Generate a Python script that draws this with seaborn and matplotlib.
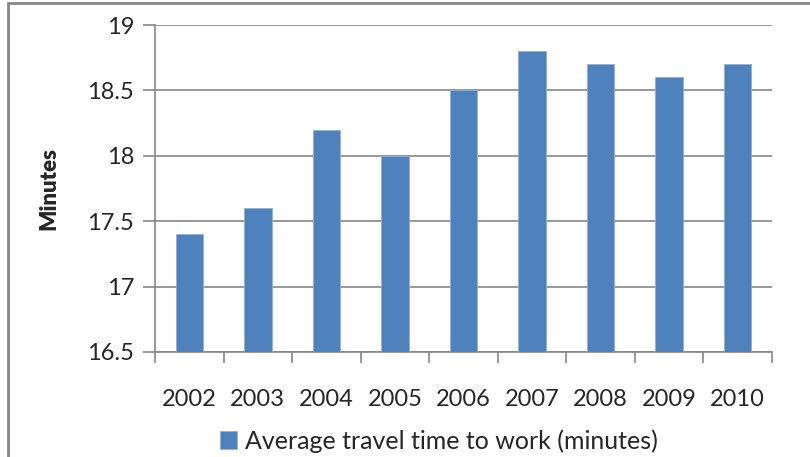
import numpy as np
import pandas as pd
import seaborn as sns
import matplotlib
matplotlib.use("Agg")
import matplotlib.pyplot as plt
from matplotlib.patches import Rectangle

years = ["2002", "2003", "2004", "2005", "2006", "2007", "2008", "2009", "2010"]
minutes = [17.4, 17.6, 18.2, 18.0, 18.5, 18.8, 18.7, 18.6, 18.7]
yticks = [16.5, 17, 17.5, 18, 18.5, 19]
yticklabels = ["16.5", "17", "17.5", "18", "18.5", "19"]
series_name = "Average travel time to work (minutes)"

df = pd.DataFrame({"year": years, "minutes": minutes, "series": series_name})

sns.set_style("white")
plt.rcParams["font.family"] = ["Lato", "DejaVu Sans"]

grey = "#868686"
blue = "#4F81BD"

fig = plt.figure(figsize=(8.1, 4.57), dpi=100)
ax = fig.add_axes([155 / 810, 1 - 352 / 457, (772 - 155) / 810, (352 - 25) / 457])

sns.barplot(data=df, x="year", y="minutes", hue="series", palette=[blue], saturation=1,
            width=0.4, edgecolor="#8FB0DA", linewidth=0.6, ax=ax, zorder=3)

ax.set_ylim(16.5, 19)
ax.set_xlim(-0.5, len(years) - 0.5)
ax.set_yticks(yticks)
ax.set_yticklabels(yticklabels, fontsize=17)
ax.set_xticks(range(len(years)))
ax.set_xticklabels(years, fontsize=17)
ax.set_xlabel("")
ax.set_ylabel("Minutes", fontsize=16, fontweight="heavy", labelpad=20)

ax.grid(axis="y", color=grey, linewidth=1.2, zorder=0)
ax.set_axisbelow(True)
for s in ["top", "right"]:
    ax.spines[s].set_visible(False)
for s in ["left", "bottom"]:
    ax.spines[s].set_color(grey)
    ax.spines[s].set_linewidth(1.2)

# y tick marks outside, x tick marks at category boundaries
ax.tick_params(axis="y", length=9, width=1.2, color=grey, direction="out", left=True, pad=6)
ax.tick_params(axis="x", length=0, pad=27)
ax.set_xticks(np.arange(-0.5, len(years), 1.0), minor=True)
ax.tick_params(axis="x", which="minor", length=8, width=1.2, color=grey, direction="out", bottom=True)

leg = ax.legend(loc="upper center", bbox_to_anchor=(0.46, -0.205), frameon=False,
                fontsize=18, handlelength=0.7, handleheight=0.7, handletextpad=0.3,
                borderaxespad=0)

fig.patches.append(Rectangle((8 / 810, -0.05), 1.05, 1 - 3 / 457 + 0.05, transform=fig.transFigure,
                             fill=False, edgecolor=grey, linewidth=2, zorder=10))

fig.savefig("out.png", dpi=100)
